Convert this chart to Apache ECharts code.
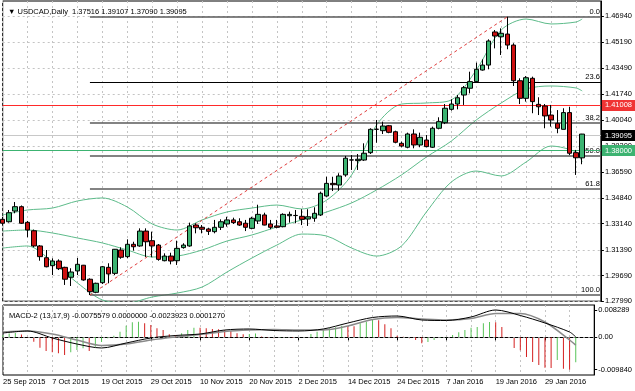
<!DOCTYPE html>
<html><head><meta charset="utf-8">
<script src="https://cdn.jsdelivr.net/npm/echarts/dist/echarts.min.js"></script>
<style>html,body{margin:0;padding:0;background:#fff}#c{width:635px;height:391px}</style>
</head><body><div id="c"></div><script>
const dates = ['25 Sep 2015','28 Sep 2015','29 Sep 2015','30 Sep 2015','1 Oct 2015','2 Oct 2015','5 Oct 2015','6 Oct 2015',
'7 Oct 2015','8 Oct 2015','9 Oct 2015','12 Oct 2015','13 Oct 2015','14 Oct 2015','15 Oct 2015','16 Oct 2015',
'19 Oct 2015','20 Oct 2015','21 Oct 2015','22 Oct 2015','23 Oct 2015','26 Oct 2015','27 Oct 2015','28 Oct 2015',
'29 Oct 2015','30 Oct 2015','2 Nov 2015','3 Nov 2015','4 Nov 2015','5 Nov 2015','6 Nov 2015','9 Nov 2015',
'10 Nov 2015','11 Nov 2015','12 Nov 2015','13 Nov 2015','16 Nov 2015','17 Nov 2015','18 Nov 2015','19 Nov 2015',
'20 Nov 2015','23 Nov 2015','24 Nov 2015','25 Nov 2015','26 Nov 2015','27 Nov 2015','30 Nov 2015','1 Dec 2015',
'2 Dec 2015','3 Dec 2015','4 Dec 2015','7 Dec 2015','8 Dec 2015','9 Dec 2015','10 Dec 2015','11 Dec 2015',
'14 Dec 2015','15 Dec 2015','16 Dec 2015','17 Dec 2015','18 Dec 2015','21 Dec 2015','22 Dec 2015','23 Dec 2015',
'24 Dec 2015','28 Dec 2015','29 Dec 2015','30 Dec 2015','31 Dec 2015','4 Jan 2016','5 Jan 2016','6 Jan 2016',
'7 Jan 2016','8 Jan 2016','11 Jan 2016','12 Jan 2016','13 Jan 2016','14 Jan 2016','15 Jan 2016','18 Jan 2016',
'19 Jan 2016','20 Jan 2016','21 Jan 2016','22 Jan 2016','25 Jan 2016','26 Jan 2016','27 Jan 2016','28 Jan 2016',
'29 Jan 2016','1 Feb 2016','2 Feb 2016','3 Feb 2016','4 Feb 2016','5 Feb 2016','8 Feb 2016','9 Feb 2016','10 Feb 2016'];

const open = [1.3343,1.3327,1.3398,1.3427,1.3323,1.3267,1.3166,1.3088,1.3035,1.3066,
1.3024,1.2958,1.3000,1.3038,1.2945,1.2858,1.2922,1.3024,1.2984,1.3139,
1.3095,1.3177,1.3166,1.3265,1.3201,1.3172,1.3068,1.3099,1.3068,1.3155,
1.3166,1.3305,1.3290,1.3279,1.3261,1.3290,1.3312,1.3339,1.3327,1.3317,
1.3283,1.3332,1.3372,1.3312,1.3299,1.3294,1.3367,1.3368,1.3363,1.3345,
1.3350,1.3372,1.3498,1.3582,1.3571,1.3638,1.3737,1.3733,1.3737,1.3786,
1.3941,1.3932,1.3965,1.3925,1.3848,1.3822,1.3910,1.3837,1.3870,1.3822,
1.3948,1.3985,1.4074,1.4109,1.4169,1.4214,1.4258,1.4335,1.4368,1.4588,
1.4556,1.4574,1.4501,1.4264,1.4147,1.4280,1.4107,1.4096,1.4036,1.3981,
1.3941,1.4052,1.3786,1.37516];
const close = [1.3317,1.3387,1.3427,1.3317,1.3272,1.3166,1.3095,1.3028,1.3066,1.3015,
1.2945,1.2993,1.3044,1.2940,1.2862,1.2918,1.3028,1.2980,1.3144,1.3091,
1.3177,1.3161,1.3265,1.3194,1.3166,1.3077,1.3099,1.3066,1.3150,1.3172,
1.3299,1.3287,1.3277,1.3263,1.3290,1.3327,1.3339,1.3321,1.3305,1.3290,
1.3350,1.3376,1.3305,1.3290,1.3290,1.3376,1.3376,1.3369,1.3343,1.3360,
1.3383,1.3516,1.3582,1.3573,1.3631,1.3749,1.3738,1.3742,1.3782,1.3941,
1.3942,1.3963,1.3921,1.3855,1.3830,1.3910,1.3837,1.3888,1.3826,1.3948,
1.3992,1.4081,1.4109,1.4151,1.4218,1.4258,1.4340,1.4368,1.4528,1.4561,
1.4579,1.4501,1.4264,1.4147,1.4284,1.4125,1.4091,1.4030,1.4003,1.3948,
1.4052,1.3782,1.3752,1.39095];
const low = [1.3305,1.3321,1.3383,1.3312,1.3224,1.3157,1.3068,1.3024,1.2973,1.3006,
1.2907,1.2900,1.2973,1.2935,1.2840,1.2852,1.2913,1.2918,1.2973,1.3081,
1.3084,1.3135,1.3161,1.3093,1.3091,1.3068,1.3064,1.3044,1.3040,1.3148,
1.3161,1.3250,1.3250,1.3239,1.3250,1.3272,1.3294,1.3312,1.3299,1.3265,
1.3277,1.3312,1.3303,1.3277,1.3283,1.3290,1.3321,1.3317,1.3305,1.3299,
1.3327,1.3365,1.3493,1.3531,1.3533,1.3626,1.3671,1.3671,1.3731,1.3777,
1.3852,1.3910,1.3915,1.3848,1.3822,1.3815,1.3815,1.3822,1.3822,1.3817,
1.3941,1.3976,1.4065,1.4074,1.4103,1.4180,1.4251,1.4331,1.4340,1.4479,
1.4435,1.4473,1.4229,1.4109,1.4125,1.4048,1.4036,1.3948,1.3959,1.3915,
1.3941,1.3770,1.3638,1.37090];
const high = [1.3359,1.3405,1.3458,1.3435,1.3332,1.3275,1.3172,1.3139,1.3084,1.3077,
1.3028,1.3018,1.3086,1.3040,1.2951,1.2922,1.3033,1.3051,1.3146,1.3157,
1.3210,1.3194,1.3283,1.3283,1.3261,1.3179,1.3117,1.3121,1.3201,1.3184,
1.3321,1.3317,1.3305,1.3287,1.3339,1.3343,1.3360,1.3354,1.3350,1.3339,
1.3360,1.3440,1.3387,1.3339,1.3339,1.3383,1.3394,1.3405,1.3410,1.3410,
1.3423,1.3527,1.3626,1.3626,1.3649,1.3764,1.3770,1.3777,1.3848,1.3948,
1.4003,1.3992,1.3970,1.3932,1.3859,1.3919,1.3941,1.3919,1.3903,1.3959,
1.4021,1.4109,1.4141,1.4169,1.4229,1.4324,1.4384,1.4406,1.4539,1.4601,
1.4612,1.4689,1.4513,1.4280,1.4295,1.4291,1.4154,1.4109,1.4103,1.4069,
1.4081,1.4091,1.3804,1.39107];

// Bollinger bands read at every 4th bar (and the last)
const sampleIdx = [0,4,8,12,16,20,24,28,32,36,40,44,48,52,56,60,64,68,72,76,80,84,88,92,93];
const bbUpper = [1.3372,1.3405,1.3418,1.3465,1.3485,1.3425,1.3312,1.3272,1.3339,1.3392,1.3418,1.3438,1.3412,1.3471,1.3638,1.3970,1.4109,1.4116,1.4136,1.4335,1.4601,1.4674,1.4641,1.4654,1.4674];
const bbMiddle = [1.3265,1.3272,1.3252,1.3219,1.3186,1.3139,1.3093,1.3099,1.3139,1.3199,1.3239,1.3292,1.3339,1.3392,1.3452,1.3538,1.3638,1.3757,1.3863,1.4003,1.4116,1.4209,1.4229,1.4216,1.4196];
const bbLower = [1.3152,1.3166,1.3059,1.2920,1.2807,1.2787,1.2827,1.2853,1.2893,1.2993,1.3086,1.3172,1.3245,1.3232,1.3152,1.3099,1.3166,1.3392,1.3591,1.3664,1.3631,1.3724,1.3830,1.3790,1.3724];

// MACD lines read at the same bars
const macdBlack = [0.001305,0.001913,-0.000213,-0.002034,-0.003248,-0.001730,-0.000213,0.000546,0.001002,0.002216,0.002520,0.002064,0.001913,0.002520,0.004341,0.006011,0.006466,0.005252,0.005100,0.006163,0.008289,0.006618,0.004341,0.001609,0.000127];
const macdGray = [0.001609,0.001913,0.001002,-0.000820,-0.002489,-0.002034,-0.000820,0.000091,0.000850,0.001761,0.002216,0.002368,0.002216,0.002216,0.003431,0.005404,0.006011,0.005556,0.005252,0.005707,0.007225,0.007225,0.004645,-0.000820,-0.0023923];
const macdHist = [0.00070,0.00115,0.00131,0.00085,-0.00006,-0.00134,-0.00316,-0.00416,-0.00455,-0.00486,
-0.00537,-0.00455,-0.00386,-0.00334,-0.00416,-0.00285,-0.00143,-0.00030,0.00049,0.00170,
0.00352,0.00455,0.00474,0.00425,0.00373,0.00273,0.00222,0.00091,0.00070,0.00121,
0.00222,0.00291,0.00288,0.00273,0.00252,0.00243,0.00222,0.00191,0.00121,0.00091,
0.00100,0.00115,0.00024,-0.00015,-0.00030,-0.00021,-0.00006,-0.00015,-0.00021,-0.00006,
0.00100,0.00170,0.00222,0.00273,0.00304,0.00352,0.00343,0.00334,0.00425,0.00474,
0.00525,0.00516,0.00395,0.00273,0.00049,0.00018,-0.00030,-0.00082,-0.00182,-0.00143,
-0.00082,-0.00021,0.00009,0.00070,0.00152,0.00222,0.00291,0.00313,0.00425,0.00464,
0.00458,0.00313,-0.00006,-0.00325,-0.00395,-0.00598,-0.00750,-0.00841,-0.00923,-0.00932,
-0.00689,-0.00955,-0.00984,-0.0075579];

const priceTicks = [1.46940,1.45190,1.43490,1.41740,1.40040,1.38300,1.36590,1.34840,1.33140,1.31390,1.29690,1.27990];
const macdTicks = [0.008289,0,-0.009840];
const fibLevels = [1.4690,1.4253,1.3983,1.3765,1.3547,1.2840];
const fibLabels = ['0.0','23.6','38.2','50.0','61.8','100.0'];
const trend = {from: 14, fromPrice: 1.2840, to: 81, toPrice: 1.4689};
const priceLines = [
  {value: 1.41008, text: '1.41008', line: '#ff2a2a', bg: '#f03434'},
  {value: 1.39095, text: '1.39095', line: '#c8c8c8', bg: '#000000'},
  {value: 1.38000, text: '1.38000', line: '#3cb371', bg: '#3cb371'}
];

const FONT = '"Liberation Sans", Arial, sans-serif';
const FS = 7.5;
const GREEN = '#3cb371', RED = '#cc1010', BAND = '#5dbb8a';
const gridDash = {color: '#c4c4c4', type: [2, 3], width: 1};

const chart = echarts.init(document.getElementById('c'));
const candleData = open.map((o, i) => [o, close[i], low[i], high[i]]);
const pairs = (arr) => sampleIdx.map((ix, k) => [ix, arr[k]]);
const lastCat = dates.length - 1;

const fibMark = fibLevels.map((lv, k) => [
  {coord: [dates[14], lv], lineStyle: {color: k === 1 ? '#000' : '#5a5a5a', width: k === 1 ? 1 : 1.5, type: 'solid'},
   label: {show: true, formatter: fibLabels[k], position: 'insideEndTop', distance: 1, color: '#000', fontSize: FS, fontFamily: FONT}},
  {coord: [dates[lastCat], lv]}
]);
fibMark.push([
  {coord: [dates[trend.from], trend.fromPrice], lineStyle: {color: '#e03c3c', width: 1, type: [3, 3]}, label: {show: false}},
  {coord: [dates[trend.to], trend.toPrice]}
]);

const option = {
  animation: false,
  backgroundColor: '#fff',
  title: [
    {text: '\u25BC USDCAD,Daily  1.37516 1.39107 1.37090 1.39095', left: 3, top: 3,
     textStyle: {fontSize: FS, fontWeight: 'normal', color: '#000', fontFamily: FONT}},
    {text: 'MACD-2 (13,17,9) -0.0075579 0.0000000 -0.0023923 0.0001270', left: 4, top: 307,
     textStyle: {fontSize: FS, fontWeight: 'normal', color: '#000', fontFamily: FONT}}
  ],
  grid: [
    {left: 2.7, width: 600, top: 1, height: 300.2, show: true, borderColor: '#000', borderWidth: 1},
    {left: 2.7, width: 600, top: 305, height: 70, show: true, borderColor: '#000', borderWidth: 1}
  ],
  xAxis: [
    {type: 'category', data: dates, gridIndex: 0, boundaryGap: false,
     axisLine: {show: false}, axisTick: {show: false}, axisLabel: {show: false},
     splitLine: {show: true, interval: (i) => i % 4 === 0, lineStyle: gridDash}},
    {type: 'category', data: dates, gridIndex: 1, boundaryGap: false,
     axisLine: {show: true, lineStyle: {color: '#000'}},
     axisTick: {show: true, interval: (i) => i % 8 === 0 && i <= 88, length: 3, lineStyle: {color: '#000'}},
     axisLabel: {show: true, interval: (i) => i % 8 === 0 && i <= 88, align: 'left', margin: 3,
                 fontSize: FS, fontFamily: FONT, color: '#000'},
     splitLine: {show: true, interval: (i) => i % 4 === 0, lineStyle: gridDash}}
  ],
  yAxis: [
    {type: 'value', gridIndex: 0, position: 'right', min: 1.2799, max: 1.47937,
     axisLine: {show: true, lineStyle: {color: '#000'}},
     axisTick: {show: true, customValues: priceTicks, length: 3, lineStyle: {color: '#000'}},
     axisLabel: {show: true, customValues: priceTicks, formatter: (v) => v.toFixed(5), margin: 4,
                 fontSize: FS, fontFamily: FONT, color: '#000'},
     splitLine: {show: true, lineStyle: gridDash}},
    {type: 'value', gridIndex: 1, position: 'right', min: -0.011445, max: 0.009806,
     axisLine: {show: true, lineStyle: {color: '#000'}},
     axisTick: {show: true, customValues: macdTicks, length: 3, lineStyle: {color: '#000'}},
     axisLabel: {show: true, customValues: macdTicks, formatter: (v) => v === 0 ? '0.00' : v.toFixed(6), margin: 4,
                 fontSize: FS, fontFamily: FONT, color: '#000'},
     splitLine: {show: false}}
  ],
  series: [
    {type: 'line', name: 'bbUpper', xAxisIndex: 0, yAxisIndex: 0, data: pairs(bbUpper), smooth: 0.3,
     symbol: 'none', lineStyle: {color: BAND, width: 1}, z: 2},
    {type: 'line', name: 'bbMiddle', xAxisIndex: 0, yAxisIndex: 0, data: pairs(bbMiddle), smooth: 0.3,
     symbol: 'none', lineStyle: {color: BAND, width: 1}, z: 2,
     markLine: {silent: true, symbol: ['none', 'none'], data: fibMark, z: 3}},
    {type: 'line', name: 'bbLower', xAxisIndex: 0, yAxisIndex: 0, data: pairs(bbLower), smooth: 0.3,
     symbol: 'none', lineStyle: {color: BAND, width: 1}, z: 2},
    {type: 'candlestick', name: 'USDCAD', xAxisIndex: 0, yAxisIndex: 0, data: candleData, barWidth: 5,
     itemStyle: {color: GREEN, color0: RED, borderColor: '#000', borderColor0: '#000', borderWidth: 1},
     z: 5,
     markLine: {silent: true, symbol: ['none', 'none'], z: 4,
       data: priceLines.map(p => ({yAxis: p.value, lineStyle: {color: p.line, width: 1, type: 'solid', opacity: 1},
         label: {show: true, position: 'end', distance: 1, formatter: p.text, color: '#fff', backgroundColor: p.bg,
                 padding: [2, 3, 1, 3], fontSize: FS, fontFamily: FONT}}))}},
    {type: 'bar', name: 'hist', xAxisIndex: 1, yAxisIndex: 1, data: macdHist, barWidth: 1,
     itemStyle: {color: (p) => (p.dataIndex === 0 || macdHist[p.dataIndex] >= macdHist[p.dataIndex - 1]) ? '#58c458' : '#d42020'},
     markLine: {silent: true, symbol: ['none', 'none'], label: {show: false},
       data: [{yAxis: 0, lineStyle: {color: '#888', type: [2, 3], width: 1}}]}},
    {type: 'line', name: 'macdGray', xAxisIndex: 1, yAxisIndex: 1, data: pairs(macdGray), smooth: 0.3,
     symbol: 'none', lineStyle: {color: '#8a8a8a', width: 1.5}},
    {type: 'line', name: 'macdBlack', xAxisIndex: 1, yAxisIndex: 1, data: pairs(macdBlack), smooth: 0.3,
     symbol: 'none', lineStyle: {color: '#000', width: 1}}
  ]
};
chart.setOption(option);
</script></body></html>
